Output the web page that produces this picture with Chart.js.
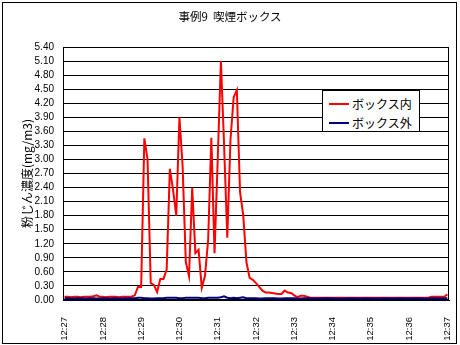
<!DOCTYPE html>
<html>
<head>
<meta charset="utf-8">
<script src="https://cdn.jsdelivr.net/npm/chart.js@4.4.0/dist/chart.umd.min.js"></script>
<style>
  body { margin: 0; background: #fff; }
  #wrap { position: relative; width: 460px; height: 345px; }
  #frame { position: absolute; left: 2px; top: 2px; width: 453px; height: 340px; border: 1px solid #000; pointer-events: none; }
  #title { position: absolute; left: 0; top: 9px; width: 460px; text-align: center; font: 11.5px "Noto Sans CJK JP"; line-height: 14px; white-space: pre; color: #000; }
  #legend { position: absolute; left: 322px; top: 90px; width: 96px; height: 40px; border: 1px solid #000; background: #fff; font: 12px "Noto Sans CJK JP"; color: #000; }
  .item { position: absolute; left: 0; height: 14px; line-height: 14px; white-space: nowrap; }
  .item i { position: absolute; left: 6px; top: 6px; width: 20px; height: 2px; }
  .item span { position: absolute; left: 29px; top: 0; }
</style>
</head>
<body>
<div id="wrap">
  <canvas id="myChart" width="460" height="345"></canvas>
  <div id="title">事例9  喫煙ボックス</div>
  <div id="legend">
    <div class="item" style="top:6px"><i style="background:#ff0000"></i><span>ボックス内</span></div>
    <div class="item" style="top:25px"><i style="background:#000080"></i><span>ボックス外</span></div>
  </div>
  <div id="frame"></div>
</div>
<script>
// 5 second readings, 12:27:00 - 12:37:00
var times = [];
for (var s = 0; s <= 600; s += 5) {
  var m = 27 + Math.floor(s / 60), sec = s % 60;
  times.push('12:' + m + ':' + (sec < 10 ? '0' : '') + sec);
}

// dust concentration inside the smoking box (mg/m3)
var inside = [
  0.07, 0.07, 0.06, 0.07, 0.07, 0.06, 0.07, 0.07, 0.07, 0.08,
  0.10, 0.07, 0.07, 0.06, 0.07, 0.07, 0.07, 0.06, 0.07, 0.07,
  0.07, 0.07, 0.10, 0.28, 0.28, 3.45, 3.00, 0.36, 0.32, 0.17,
  0.45, 0.45, 0.65, 2.80, 2.35, 1.80, 3.90, 2.85, 0.81, 0.51,
  2.39, 1.00, 1.07, 0.26, 0.51, 1.28, 3.46, 1.00, 3.00, 5.10,
  3.30, 1.33, 3.42, 4.33, 4.48, 2.30, 1.81, 0.81, 0.47, 0.43,
  0.36, 0.28, 0.20, 0.16, 0.16, 0.15, 0.14, 0.13, 0.13, 0.20,
  0.16, 0.15, 0.10, 0.06, 0.09, 0.09, 0.07, 0.05, 0.05, 0.05,
  0.05, 0.05, 0.05, 0.05, 0.05, 0.05, 0.05, 0.05, 0.05, 0.05,
  0.05, 0.05, 0.05, 0.05, 0.05, 0.05, 0.05, 0.05, 0.05, 0.05,
  0.05, 0.05, 0.05, 0.05, 0.05, 0.05, 0.05, 0.05, 0.05, 0.05,
  0.05, 0.05, 0.05, 0.05, 0.05, 0.07, 0.07, 0.07, 0.07, 0.07,
  0.12
];

// dust concentration outside the box
var outside = [
  0.04, 0.04, 0.03, 0.03, 0.04, 0.04, 0.03, 0.03, 0.04, 0.04,
  0.03, 0.03, 0.04, 0.04, 0.03, 0.04, 0.04, 0.03, 0.03, 0.04,
  0.04, 0.04, 0.04, 0.05, 0.05, 0.04, 0.04, 0.03, 0.03, 0.04,
  0.04, 0.04, 0.05, 0.05, 0.05, 0.05, 0.04, 0.04, 0.05, 0.05,
  0.05, 0.05, 0.05, 0.04, 0.04, 0.05, 0.05, 0.05, 0.05, 0.06,
  0.08, 0.05, 0.04, 0.05, 0.04, 0.05, 0.06, 0.04, 0.04, 0.04,
  0.04, 0.03, 0.03, 0.04, 0.04, 0.04, 0.04, 0.03, 0.03, 0.04,
  0.04, 0.04, 0.04, 0.03, 0.03, 0.04, 0.04, 0.04, 0.03, 0.03,
  0.03, 0.04, 0.04, 0.04, 0.03, 0.03, 0.03, 0.03, 0.03, 0.04,
  0.04, 0.04, 0.03, 0.03, 0.04, 0.04, 0.03, 0.03, 0.03, 0.03,
  0.04, 0.04, 0.03, 0.03, 0.04, 0.04, 0.04, 0.03, 0.03, 0.04,
  0.04, 0.04, 0.03, 0.03, 0.03, 0.04, 0.04, 0.04, 0.04, 0.04,
  0.04
];

var yMax = 5.4;
var yStep = 0.3;

// outline round the plot area
var plotFrame = {
  id: 'plotFrame',
  beforeDatasetsDraw: function (chart) {
    var a = chart.chartArea, ctx = chart.ctx;
    ctx.save();
    ctx.strokeStyle = '#000';
    ctx.lineWidth = 1;
    ctx.strokeRect(Math.round(a.left) + 0.5, Math.round(a.top) + 0.5,
      Math.round(a.right - a.left) - 1, Math.round(a.bottom - a.top) - 1);
    ctx.restore();
  }
};

new Chart(document.getElementById('myChart'), {
  type: 'line',
  data: {
    labels: times,
    datasets: [
      { label: 'ボックス内', data: inside, borderColor: '#ff0000', borderWidth: 2, order: 1 },
      { label: 'ボックス外', data: outside, borderColor: '#000080', borderWidth: 2, order: 0 }
    ]
  },
  options: {
    responsive: false,
    animation: false,
    devicePixelRatio: 1,
    elements: { point: { radius: 0 }, line: { tension: 0 } },
    layout: { padding: { left: 14, right: 11, top: 47, bottom: 0 } },
    plugins: { legend: { display: false }, tooltip: { enabled: false } },
    scales: {
      x: {
        offset: true,
        grid: { display: false },
        border: { display: true, color: '#000' },
        ticks: {
          autoSkip: false, maxRotation: 90, minRotation: 90, padding: 9,
          color: '#000', font: { family: 'Liberation Sans', size: 9.5 },
          callback: function (v, i) { return i % 12 === 0 ? times[i].slice(0, 5) : null; }
        },
        afterFit: function (s) {
          s.height = 45;
          // rotated end labels fit inside the outer margin already
          s.paddingLeft = 0;
          s.paddingRight = 0;
        }
      },
      y: {
        min: 0, max: yMax,
        grid: { color: '#000', drawTicks: false },
        border: { display: true, color: '#000' },
        ticks: {
          stepSize: yStep, autoSkip: false, padding: 9, color: '#000',
          font: { family: 'Liberation Sans', size: 10 },
          callback: function (v) { return v.toFixed(2); }
        },
        title: {
          display: true, text: '粉じん濃度(mg/m3)', color: '#000',
          font: { family: 'Noto Sans CJK JP', size: 12 }, padding: { top: 6, bottom: 0 }
        },
        afterFit: function (s) { s.width = 49; }
      }
    }
  },
  plugins: [plotFrame]
});
</script>
</body>
</html>
